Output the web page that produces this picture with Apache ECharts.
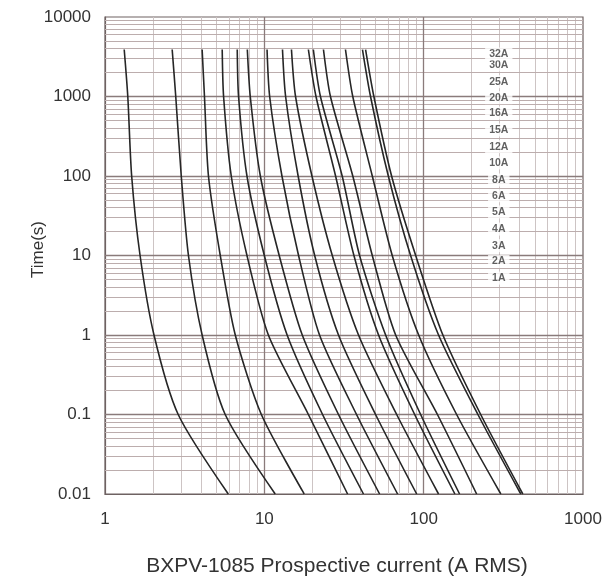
<!DOCTYPE html>
<html>
<head>
<meta charset="utf-8">
<style>
  html, body { margin: 0; padding: 0; background: #fff; }
  #main { width: 607px; height: 582px; }
</style>
<script src="https://cdn.jsdelivr.net/npm/echarts@6/dist/echarts.min.js"></script>
</head>
<body>
<div id="main"></div>
<script>
// fuse ratings, one time-current curve each
const ratings = ['1A', '2A', '3A', '4A', '5A', '6A', '8A', '10A', '12A', '15A', '16A', '20A', '25A', '30A', '32A'];
// melting times (s) at which the currents below were read
const times = [3900, 1000, 100, 10, 1, 0.1, 0.01];
// prospective current (A) per rating, one value per entry of times
const cur1A = [1.32, 1.39, 1.47, 1.66, 2.03, 2.88, 5.94];
const cur2A = [2.64, 2.78, 3.01, 3.34, 4.07, 5.68, 11.7];
const cur3A = [4.07, 4.21, 4.46, 5.29, 6.57, 9.58, 17.8];
const cur4A = [5.44, 5.55, 6.20, 7.78, 10.6, 18.9, 33.3];
const cur5A = [6.76, 6.89, 7.78, 10.0, 13.9, 23.2, 41.9];
const cur6A = [7.82, 8.16, 9.44, 12.4, 17.3, 29.2, 52.9];
const cur8A = [10.4, 10.8, 12.9, 16.4, 22.2, 37.9, 68.6];
const cur10A = [13.0, 13.6, 16.3, 20.7, 29.2, 49.9, 90.4];
const cur12A = [14.8, 15.7, 19.9, 26.7, 39.0, 67.7, 124];
const cur15A = [18.9, 21.1, 28.0, 36.5, 52.1, 87.8, 157];
const cur16A = [20.3, 22.5, 30.8, 39.6, 57.7, 95.7, 168];
const cur20A = [23.5, 26.0, 35.9, 47.6, 66.7, 122, 215];
const cur25A = [32.3, 35.9, 47.6, 63.5, 93.0, 161, 305];
const cur30A = [41.3, 46.4, 60.0, 82.8, 124, 219, 407];
const cur32A = [43.2, 48.7, 62.9, 89.1, 132, 228, 419];
const curves = [cur1A, cur2A, cur3A, cur4A, cur5A, cur6A, cur8A, cur10A, cur12A, cur15A, cur16A, cur20A, cur25A, cur30A, cur32A];

// rating labels stacked at the right of the plot
const labelCurrent = 296;
const labelTimes = [5.2, 8.4, 13.3, 21.5, 35.3, 56.5, 89, 146, 234, 379, 620, 966, 1536, 2489, 3427];

const xTicks = [1, 10, 100, 1000];
const yTicks = [0.01, 0.1, 1, 10, 100, 1000, 10000];

// minor grid values (2..9 of every decade)
function minors(ticks) {
  const out = [];
  for (let i = 0; i < ticks.length - 1; i++) {
    for (let m = 2; m <= 9; m++) out.push(+(ticks[i] * m).toPrecision(3));
  }
  return out;
}
const xMinor = minors(xTicks);
const yMinor = minors(yTicks);

let myChart = echarts.init(document.getElementById('main'));

const series = curves.map((c, i) => ({
  name: ratings[i],
  type: 'line',
  smooth: 0.25,
  symbol: 'none',
  z: 5,
  lineStyle: { color: '#262626', width: 1.6 },
  data: c.map((x, j) => [x, times[j]])
}));

function gridLines(data, color, width, z) {
  return {
    type: 'line',
    data: [],
    z: z,
    silent: true,
    markLine: {
      silent: true,
      symbol: 'none',
      animation: false,
      label: { show: false },
      lineStyle: { color: color, width: width, type: 'solid' },
      data: data
    }
  };
}
// minor grid: vertical lighter, horizontal a bit darker
series.push(gridLines(xMinor.map(v => ({ xAxis: v })), '#cdc4c4', 1, 1));
series.push(gridLines(yMinor.map(v => ({ yAxis: v })), '#bcadad', 1, 1));
// decade grid lines
series.push(gridLines(
  xTicks.slice(1, -1).map(v => ({ xAxis: v })).concat(yTicks.slice(1, -1).map(v => ({ yAxis: v }))),
  '#8a7b7b', 1.3, 2));

// rating labels
series.push({
  type: 'scatter',
  symbolSize: 0,
  z: 6,
  silent: true,
  data: labelTimes.map((t, i) => ({ value: [labelCurrent, t], name: ratings[i] })),
  label: {
    show: true,
    position: 'inside',
    formatter: p => p.name,
    fontFamily: 'Liberation Sans',
    fontSize: 10.5,
    fontWeight: 'bold',
    color: '#3a3a3a',
    backgroundColor: '#fff',
    padding: [1, 4]
  }
});

const fmt = v => String(+v.toPrecision(3));

myChart.setOption({
  animation: false,
  backgroundColor: '#fff',
  grid: {
    left: 105, right: 24, top: 17, bottom: 88,
    show: true, borderColor: '#6e6262', borderWidth: 1.2
  },
  xAxis: {
    type: 'log',
    logBase: 10,
    min: 1,
    max: 1000,
    splitNumber: 3,
    name: 'BXPV-1085 Prospective current (A RMS)',
    nameLocation: 'middle',
    nameGap: 62,
    nameTextStyle: { fontFamily: 'Liberation Sans', fontSize: 21, color: '#333', padding: [0, 14, 0, 0] },
    axisLine: { show: true, lineStyle: { color: '#6e6262', width: 1.2 } },
    axisTick: { show: false },
    splitLine: { show: false },
    axisLabel: { fontFamily: 'Liberation Sans', fontSize: 17, color: '#333', margin: 17, formatter: fmt }
  },
  yAxis: {
    type: 'log',
    logBase: 10,
    min: 0.01,
    max: 10000,
    splitNumber: 6,
    name: 'Time(s)',
    nameLocation: 'middle',
    nameGap: 58,
    nameMoveOverlap: false,
    nameTextStyle: { fontFamily: 'Liberation Sans', fontSize: 17, color: '#333', padding: [0, 0, 0, 12] },
    axisLine: { show: true, lineStyle: { color: '#6e6262', width: 1.2 } },
    axisTick: { show: false },
    splitLine: { show: false },
    axisLabel: { fontFamily: 'Liberation Sans', fontSize: 17, color: '#333', margin: 14, formatter: fmt }
  },
  series: series
});
</script>
</body>
</html>
